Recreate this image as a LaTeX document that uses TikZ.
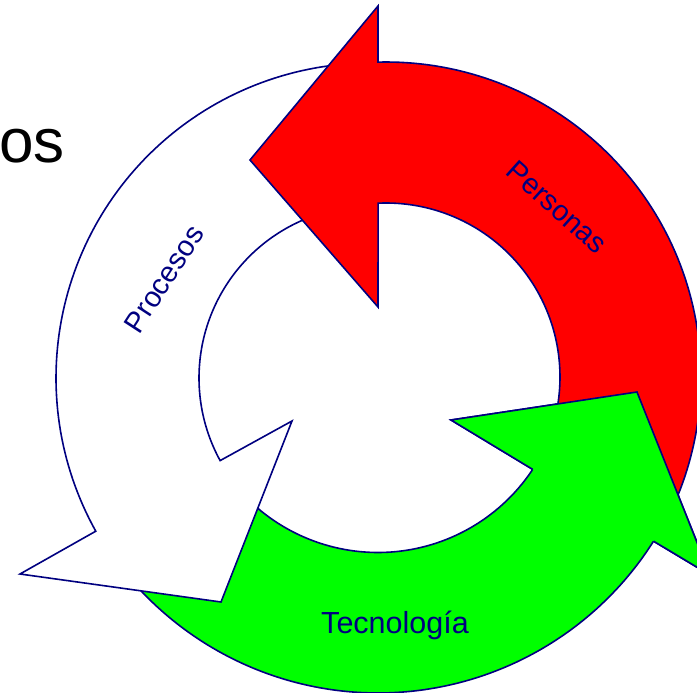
\documentclass[tikz,border=0pt]{standalone}
\usepackage{fontspec}
\setmainfont{Liberation Sans}
\begin{document}
\begin{tikzpicture}[x=1pt,y=-1pt]
\definecolor{navyline}{RGB}{0,0,128}
\definecolor{arrred}{RGB}{255,0,0}
\definecolor{arrgreen}{RGB}{0,255,0}
\tikzset{
  arrowshape/.style={draw=navyline, line width=1.6pt, line join=miter},
  arrowtext/.style={text=navyline, font=\fontsize{29}{31}\selectfont, inner sep=0pt},
  titletext/.style={text=black, font=\fontsize{62}{64}\selectfont, inner sep=0pt}
}
\useasboundingbox (0,0) rectangle (697,693);
\clip (0,0) rectangle (697,693);
\fill[white] (0,0) rectangle (697,693);
% green arrow (Tecnologia)
\path[arrowshape, fill=arrgreen]
  plot[domain=140:32.3, samples=90, variable=\t] ({378+326*cos(\t)},{367+326*sin(\t)})
  -- (710,575) -- (637,392) -- (451,420)
  -- plot[domain=33.5:140, samples=90, variable=\t] ({378+185.5*cos(\t)},{367+185.5*sin(\t)})
  -- cycle;
% white arrow (Procesos)
\path[arrowshape, fill=white]
  plot[domain=265:150.9, samples=90, variable=\t] ({371+315*cos(\t)},{378+315*sin(\t)})
  -- (20,574) -- (221,602) -- (292,421)
  -- plot[domain=151.3:265, samples=90, variable=\t] ({371+172*cos(\t)},{378+172*sin(\t)})
  -- cycle;
% red arrow (Personas)
\path[arrowshape, fill=arrred]
  plot[domain=25:-91.45, samples=90, variable=\t] ({386+315*cos(\t)},{377+315*sin(\t)})
  -- (378,6) -- (250,160) -- (378,307)
  -- plot[domain=-92.6:25, samples=90, variable=\t] ({386+174*cos(\t)},{377+174*sin(\t)})
  -- cycle;
% green arrow head on top of the red tail
\fill[arrgreen] (653.6,541.2) -- (710,575) -- (637,392) -- (451,420) -- (532.7,469.4) -- cycle;
\draw[arrowshape] (653.6,541.2) -- (710,575) -- (637,392) -- (451,420) -- (532.7,469.4);
% labels
\node[arrowtext, rotate=57] (procesos) at (164,279) {Procesos};
\node[arrowtext, rotate=-42] (personas) at (557,207) {Personas};
\node[arrowtext, font=\fontsize{30.5}{32}\selectfont, anchor=base] (tecnologia) at (395,633) {Tecnología};
\node[titletext, anchor=base east] (titulo) at (65,162) {os};
\end{tikzpicture}
\end{document}
